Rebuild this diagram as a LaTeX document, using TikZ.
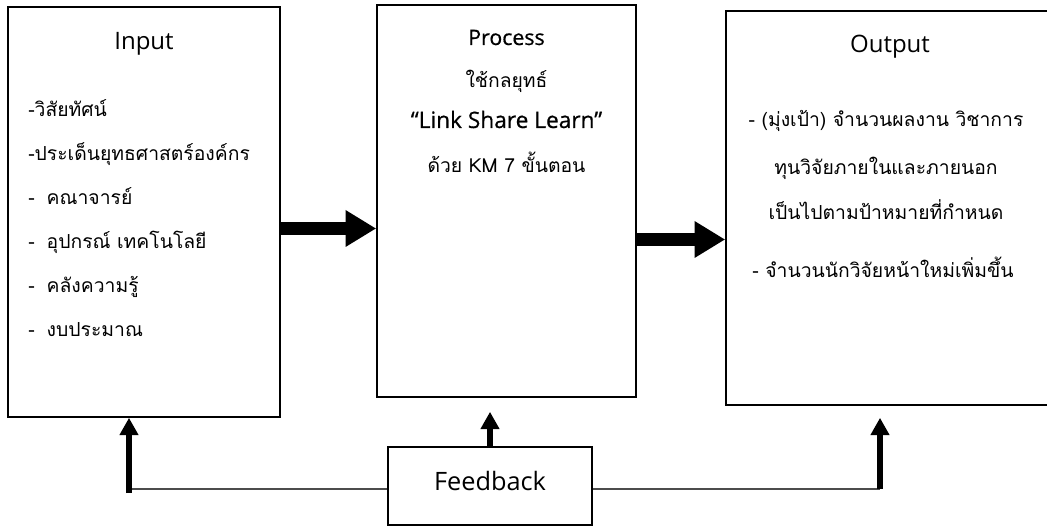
\documentclass[tikz,border=0pt]{standalone}
\usepackage{fontspec}
\setmainfont{Open Sans}
\newfontfamily\thaifont[Script=Thai]{Loma}
\newfontfamily\semifont[FakeBold=0.6]{Open Sans}
\usetikzlibrary{arrows.meta}

\begin{document}
\begin{tikzpicture}[x = 0.75pt, y = -0.75pt,
        box/.style = {draw, line width = 1.2pt, inner sep = 0pt},
        head/.style = {font = \fontsize{18}{22}\selectfont, inner sep = 0pt, anchor = base},
        thai/.style = {font = \thaifont\fontsize{14.5}{18}\selectfont, inner sep = 0pt},
        bigarrow/.style = {-{Triangle[length = 23pt, width = 26pt]}, line width = 9.75pt},
        smallarrow/.style = {-{Triangle[length = 13pt, width = 13.5pt]}, line width = 4.5pt},
        fbline/.style = {line width = 1pt, black!70}]
        \useasboundingbox (0, 0) rectangle (1047, 527);
        \node (input) [box, minimum width = 204pt, minimum height = 307.5pt] at (144, 212) {};
        \node (process) [box, minimum width = 194.25pt, minimum height = 294pt] at (506.5, 201) {};
        \node (output) [box, minimum width = 250.5pt, minimum height = 295.5pt] at (893, 208) {};
        \node (feedback) [box, minimum width = 153pt, minimum height = 58.5pt] at (490, 486) {};
        \node (inputtitle) [head] at (144, 50) {Input};
        \node (vision) [thai, anchor = base west] at (28, 117) {-วิสัยทัศน์};
        \node (strategy) [thai, anchor = base west] at (28, 161) {-ประเด็นยุทธศาสตร์องค์กร};
        \node (faculty) [thai, anchor = base west] at (28, 205) {-\hspace{9pt}คณาจารย์};
        \node (equipment) [thai, anchor = base west] at (28, 249) {-\hspace{9pt}อุปกรณ์ เทคโนโลยี};
        \node (knowledge) [thai, anchor = base west] at (28, 293) {-\hspace{9pt}คลังความรู้};
        \node (budget) [thai, anchor = base west] at (28, 337) {-\hspace{9pt}งบประมาณ};
        \node (processtitle) [head, font = \semifont\fontsize{16}{20}\selectfont] at (506.5, 45) {Process};
        \node (usestrategy) [thai, anchor = base] at (506.5, 88) {ใช้กลยุทธ์};
        \node (slogan) [head, font = \semifont\fontsize{17}{20}\selectfont] at (506.5, 128) {“Link Share Learn”};
        \node (steps) [thai, anchor = base] at (506.5, 173) {ด้วย KM 7 ขั้นตอน};
        \node (outputtitle) [head] at (890, 53) {Output};
        \node (works) [thai, anchor = base] at (886, 127) {- (มุ่งเป้า) จำนวนผลงาน วิชาการ};
        \node (grants) [thai, anchor = base] at (886, 175) {ทุนวิจัยภายในและภายนอก};
        \node (targets) [thai, anchor = base] at (886, 220) {เป็นไปตามป้าหมายที่กำหนด};
        \node (researchers) [thai, anchor = base] at (883, 278) {- จำนวนนักวิจัยหน้าใหม่เพิ่มขึ้น};
        \node (feedbacktext) [head, font = \fontsize{19}{22}\selectfont] at (490, 490) {Feedback};

        \coordinate (inarrow) at (0, 228.5);
        \coordinate (outarrow) at (0, 239.5);
        \draw [bigarrow] (input.east |- inarrow) -- (process.west |- inarrow);
        \draw [bigarrow] (process.east |- outarrow) -- (output.west |- outarrow);

        \coordinate (leftfoot) at (129, 489);
        \coordinate (rightfoot) at (880, 489);
        \draw [fbline] (feedback.west |- leftfoot) -- (leftfoot);
        \draw [fbline] (feedback.east |- rightfoot) -- (rightfoot);
        \draw [smallarrow, shorten < = -3pt] (leftfoot) -- (leftfoot |- input.south);
        \draw [smallarrow, shorten > = 10.5pt] (feedback.north) -- (feedback.north |- process.south);
        \draw [smallarrow, shorten > = 9pt] (rightfoot) -- (rightfoot |- output.south);
    \end{tikzpicture}
\end{document}
